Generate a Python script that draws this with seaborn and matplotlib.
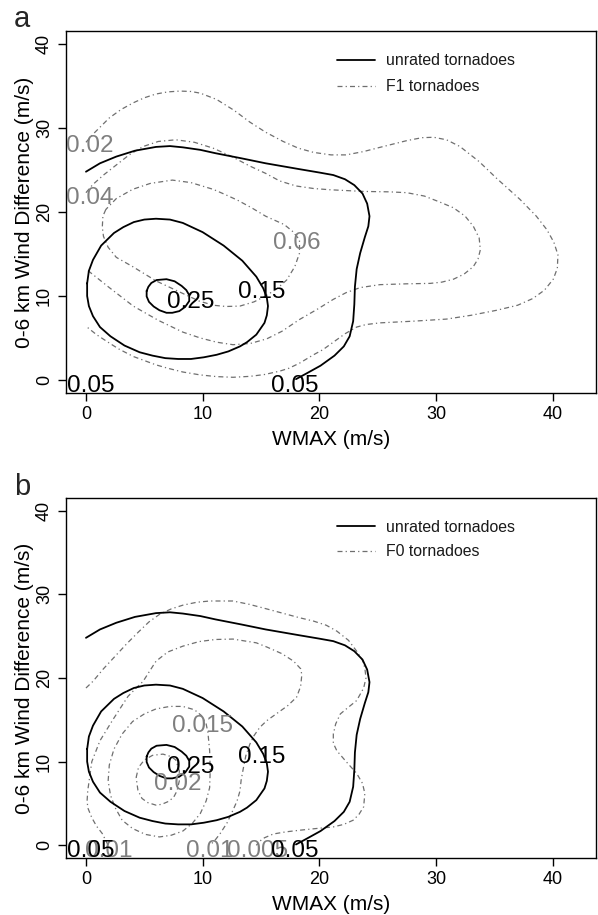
import matplotlib
matplotlib.use("Agg")
from matplotlib import pyplot as plt
from matplotlib.lines import Line2D
import pandas as pd
import seaborn as sns

# unrated tornadoes: density contours (same in both panels)
u05_x = [0, 1.2, 2.6, 4.2, 6.0, 7.2, 8.3, 9.8, 11.1, 13.3, 15.4, 18.3, 20.0, 21.2, 22.2, 23.0, 23.7, 24.1, 24.3, 24.2,
         23.9, 23.5, 23.2, 23.05, 23.0, 22.9, 22.6, 22.1, 21.3, 20.1, 18.8, 18.0]
u05_y = [24.8, 25.8, 26.6, 27.3, 27.75, 27.85, 27.7, 27.4, 27.0, 26.4, 25.8, 25.1, 24.7, 24.4, 23.9, 23.2, 22.2, 21.0, 19.5, 18.3,
         17.0, 15.1, 13.2, 11.1, 9.0, 7.0, 5.2, 4.0, 2.9, 1.7, 0.7, 0.1]
u15_x = [0.1, 0.25, 0.6, 1.3, 2.4, 3.2, 4.1, 5.0, 6.0, 7.2, 8.3, 10.0, 11.8, 13.4, 14.6, 15.2, 15.5, 15.6, 15.5, 15.3,
         14.6, 13.8, 13.2, 12.2, 11.2, 10.1, 9.0, 7.9, 6.8, 5.7, 4.6, 3.3, 2.1, 1.2, 0.6, 0.25, 0.1, 0.1]
u15_y = [11.5, 13.0, 14.3, 16.0, 17.5, 18.2, 18.8, 19.1, 19.2, 19.1, 18.7, 17.6, 16.0, 14.2, 12.3, 10.9, 9.8, 8.8, 7.7, 6.8,
         5.4, 4.5, 4.0, 3.4, 3.0, 2.7, 2.5, 2.5, 2.6, 2.9, 3.3, 4.1, 5.2, 6.3, 7.6, 8.8, 10.0, 11.5]
u25_x = [5.2, 5.35, 5.6, 6.05, 6.9, 7.6, 8.2, 8.6, 8.85, 8.85, 8.5, 8.0, 7.4, 6.9, 6.3, 5.8, 5.4, 5.2, 5.2]
u25_y = [10.6, 11.1, 11.55, 11.9, 12.0, 11.75, 11.2, 10.7, 10.1, 9.4, 8.7, 8.2, 8.0, 8.0, 8.3, 8.75, 9.3, 9.95, 10.6]

# F1 tornadoes (panel a)
f1_02_x = [0, 0.7, 2.0, 3.0, 4.05, 5.0, 6.0, 7.0, 8.05, 9.0, 9.8, 11.2, 12.7, 14.05, 15.4, 16.9, 18.2, 19.5, 21.0, 22.3,
           23.8, 25.2, 27.5, 28.8, 29.8, 30.9, 32.05, 33.7, 35.2, 37.2, 38.6, 39.5, 40.1, 40.45, 40.4, 40.05, 39.3, 38.3, 37.0, 35.2,
           33.0, 30.9, 28.05, 25.2, 24.0, 23.2, 22.2, 21.2, 20.3, 19.5, 18.3, 17.4, 16.6, 15.3, 14.05, 12.6, 11.2, 9.8, 8.3, 7.0,
           6.0, 4.05, 2.8, 2.0, 0.9, 0]
f1_02_y = [28.3, 29.4, 31.2, 32.2, 33.0, 33.6, 34.05, 34.3, 34.4, 34.35, 34.15, 33.4, 32.1, 30.7, 29.5, 28.4, 27.6, 27.1, 26.8, 26.8,
           27.2, 27.7, 28.5, 28.85, 28.9, 28.6, 27.8, 26.0, 24.0, 21.5, 19.5, 17.9, 16.4, 14.9, 13.3, 12.0, 10.7, 9.7, 8.9, 8.3,
           7.7, 7.25, 7.0, 6.8, 6.6, 6.3, 5.5, 4.5, 3.6, 3.0, 2.0, 1.4, 1.05, 0.65, 0.43, 0.32, 0.4, 0.6, 0.95, 1.4,
           1.8, 2.8, 3.7, 4.4, 5.4, 6.4]
f1_04_x = [0, 0.57, 1.5, 2.6, 3.7, 4.9, 6.2, 7.7, 9.3, 10.9, 12.5, 14.0, 15.4, 16.6, 18.0, 19.5, 20.9, 23.8, 26.0, 27.5,
           29.0, 30.3, 31.5, 32.5, 33.2, 33.7, 33.8, 33.6, 33.2, 32.4, 31.5, 30.5, 29.5, 27.5, 25.2, 23.5, 22.3, 21.2, 19.8, 18.3,
           16.8, 15.5, 14.1, 12.6, 11.2, 9.8, 8.3, 6.2, 4.05, 2.0, 0.1]
f1_04_y = [22.3, 23.25, 24.4, 25.6, 26.8, 27.8, 28.4, 28.6, 28.3, 27.6, 26.6, 25.5, 24.6, 23.7, 23.1, 22.8, 22.65, 22.45, 22.4, 22.3,
           21.9, 21.2, 20.5, 19.5, 18.3, 16.9, 15.5, 14.4, 13.5, 12.6, 12.0, 11.65, 11.5, 11.45, 11.35, 11.0, 10.4, 9.6, 8.4, 7.2,
           5.8, 4.9, 4.35, 4.2, 4.5, 5.0, 5.7, 7.1, 8.8, 11.0, 13.1]
f1_06_x = [1.7, 1.45, 1.4, 1.5, 1.9, 2.6, 4.0, 6.0, 8.3, 9.7, 10.9, 12.0, 13.2, 14.4, 15.4, 16.4, 17.2, 17.9, 18.3, 18.3,
           17.7, 17.0, 15.4, 14.2, 13.0, 11.9, 10.9, 9.0, 7.4, 5.5, 4.0, 2.6, 1.7]
f1_06_y = [20.3, 19.5, 18.2, 17.1, 15.8, 14.6, 13.5, 11.8, 10.3, 9.4, 8.9, 8.75, 8.8, 9.3, 10.0, 10.9, 11.9, 13.5, 15.1, 16.7,
           17.7, 18.5, 19.5, 20.5, 21.4, 22.1, 22.7, 23.5, 23.8, 23.4, 22.7, 21.6, 20.3]

# F0 tornadoes (panel b)
f0_005_x = [0, 0.6, 1.5, 2.5, 3.5, 4.5, 5.4, 6.3, 7.3, 8.3, 9.5, 10.6, 12.6, 14.0, 15.5, 18.3, 19.5, 20.6, 21.5, 22.5,
            23.2, 23.7, 23.9, 24.0, 23.8, 23.2, 22.4, 21.8, 21.4, 21.2, 21.2, 21.5, 22.3, 23.2, 23.7, 23.9, 23.8, 23.4, 22.9, 22.1,
            21.2, 19.7, 18.3, 17.1, 16.05, 15.3, 14.9, 14.6]
f0_005_y = [18.8, 19.6, 21.1, 22.6, 24.1, 25.5, 26.7, 27.6, 28.25, 28.7, 29.05, 29.2, 29.2, 28.8, 28.25, 27.2, 26.8, 26.3, 25.6, 24.5,
            23.2, 22.1, 21.2, 20.0, 18.8, 17.3, 16.4, 15.7, 14.5, 13.3, 12.2, 11.3, 10.0, 8.6, 7.4, 6.2, 4.6, 3.7, 3.0, 2.5,
            2.2, 2.0, 1.8, 1.6, 1.35, 0.9, 0.5, 0.0]
f0_01_x = [1.9, 1.4, 0.9, 0.5, 0.15, 0.1, 0.15, 0.25, 0.5, 1.2, 2.3, 3.6, 4.3, 4.9, 5.4, 6.0, 7.0, 8.3, 9.7, 11.1,
           12.6, 14.6, 15.5, 16.8, 17.8, 18.4, 18.5, 18.4, 18.05, 17.3, 16.3, 15.5, 14.9, 14.4, 14.05, 13.7, 13.5, 13.3, 13.2, 12.95,
           12.6, 12.1, 11.5, 11.0, 10.6]
f0_01_y = [0.0, 1.4, 2.3, 3.3, 4.5, 5.4, 6.5, 7.5, 10.0, 12.5, 15.0, 17.8, 18.8, 19.6, 20.7, 22.0, 23.1, 23.8, 24.35, 24.6,
           24.65, 24.2, 23.7, 22.9, 22.0, 21.1, 20.4, 19.0, 17.7, 16.7, 15.7, 14.9, 14.1, 13.1, 12.1, 10.7, 9.3, 7.8, 6.5, 5.3,
           4.2, 2.7, 1.4, 0.5, 0.0]
f0_015_x = [1.9, 2.0, 2.4, 3.1, 4.0, 5.0, 6.0, 7.2, 8.3, 9.3, 9.9, 10.3, 10.45, 10.6, 10.65, 10.6, 10.3, 9.8, 9.1, 8.3,
            7.3, 6.3, 5.1, 4.0, 3.1, 2.5, 2.1, 1.9]
f0_015_y = [7.7, 9.6, 11.5, 13.3, 14.8, 15.7, 16.3, 16.6, 16.6, 16.2, 15.5, 14.5, 13.5, 11.3, 9.0, 6.9, 5.3, 3.8, 2.6, 1.7,
            1.2, 1.0, 1.3, 2.0, 3.0, 4.5, 6.0, 7.7]
f0_02_x = [4.3, 4.5, 5.0, 5.7, 6.6, 7.3, 7.7, 8.0, 8.0, 7.8, 7.5, 7.0, 6.5, 6.0, 5.3, 4.8, 4.45, 4.3]
f0_02_y = [8.1, 9.3, 10.2, 10.75, 10.9, 10.6, 10.2, 8.9, 7.7, 6.5, 5.7, 5.2, 4.9, 4.8, 5.1, 5.6, 6.6, 8.1]

# contour labels: text, x, y
unrated_lab = ["0.05", "0.05", "0.15", "0.25"]
unrated_lab_x = [0.37, 17.9, 15.1, 8.95]
unrated_lab_y = [-0.7, -0.7, 10.5, 9.3]
f1_lab = ["0.02", "0.04", "0.06"]
f1_lab_x = [0.3, 0.3, 18.1]
f1_lab_y = [27.8, 21.7, 16.3]
f0_lab = ["0.01", "0.015", "0.02", "0.01", "0.005"]
f0_lab_x = [1.94, 10.0, 7.9, 10.65, 14.7]
f0_lab_y = [-0.7, 14.3, 7.3, -0.7, -0.7]

ticks = [0, 10, 20, 30, 40]

GRAY = '#6f6f6f'
GRAY_TXT = '#7f7f7f'
DASH = (0, (4, 2.5, 1, 2.5))


def make_df(pieces):
    rows = []
    for i, (xs, ys) in enumerate(pieces):
        for x, y in zip(xs, ys):
            rows.append({'x': x, 'y': y, 'piece': i})
    return pd.DataFrame(rows)


sns.set_style("ticks")
plt.rcParams['font.family'] = ['Liberation Sans', 'DejaVu Sans']

fig = plt.figure(figsize=(5.98, 9.15), dpi=100)
ax_a = fig.add_axes([0.1104, 0.5705, 0.886, 0.3956])
ax_b = fig.add_axes([0.1104, 0.0620, 0.886, 0.3941])

unrated = make_df([(u05_x, u05_y), (u15_x, u15_y), (u25_x, u25_y)])
f1 = make_df([(f1_02_x, f1_02_y), (f1_04_x, f1_04_y), (f1_06_x, f1_06_y)])
f0 = make_df([(f0_005_x, f0_005_y), (f0_01_x, f0_01_y), (f0_015_x, f0_015_y), (f0_02_x, f0_02_y)])

panels = [
    (ax_a, f1, "F1 tornadoes", f1_lab, f1_lab_x, f1_lab_y, 0.7),
    (ax_b, f0, "F0 tornadoes", f0_lab, f0_lab_x, f0_lab_y, 0.6),
]

for ax, other, other_name, lab, lab_x, lab_y, spacing in panels:
    sns.lineplot(data=other, x='x', y='y', units='piece', estimator=None, sort=False,
                 color=GRAY, linewidth=0.9, linestyle=DASH, legend=False, ax=ax, zorder=2)
    sns.lineplot(data=unrated, x='x', y='y', units='piece', estimator=None, sort=False,
                 color='black', linewidth=1.3, legend=False, ax=ax, zorder=3)

    for t, x, y in zip(lab, lab_x, lab_y):
        ax.text(x, y, t, color=GRAY_TXT, fontsize=17.5, ha='center', va='center', zorder=4)
    for t, x, y in zip(unrated_lab, unrated_lab_x, unrated_lab_y):
        ax.text(x, y, t, color='black', fontsize=17.5, ha='center', va='center', zorder=5)

    ax.set_xlim(-1.71, 43.7)
    ax.set_ylim(-1.55, 41.55)
    ax.set_xticks(ticks)
    ax.set_yticks(ticks)
    ax.tick_params(axis='both', direction='out', length=5.5, width=1, labelsize=13, colors='black')
    ax.tick_params(axis='x', pad=4)
    ax.tick_params(axis='y', pad=3.8)
    plt.setp(ax.get_yticklabels(), rotation=90, va='center')
    for s in ax.spines.values():
        s.set_visible(True)
        s.set_linewidth(1.0)
        s.set_color('black')

    ax.set_xlabel('WMAX (m/s)', fontsize=15, va='center', color='black')
    ax.xaxis.set_label_coords(0.5, -0.128)
    ax.set_ylabel('0-6 km Wind Difference (m/s)', fontsize=15, va='center', color='black')
    ax.yaxis.set_label_coords(-0.079, 0.5)

    handles = [Line2D([], [], color='black', linewidth=1.3),
               Line2D([], [], color=GRAY, linewidth=0.9, linestyle=DASH)]
    leg = ax.legend(handles, ['unrated tornadoes', other_name], loc='upper left',
                    bbox_to_anchor=(0.511, 0.939), frameon=False, fontsize=11.4,
                    handlelength=2.4, handletextpad=0.7, labelspacing=spacing,
                    borderpad=0, borderaxespad=0)
    for txt in leg.get_texts():
        txt.set_color('#1a1a1a')

fig.text(14 / 598, 1 - 27 / 915, 'a', fontsize=21, ha='left', va='baseline')
fig.text(14 / 598, 1 - 495 / 915, 'b', fontsize=21, ha='left', va='baseline')

plt.savefig('out.png', dpi=100)
